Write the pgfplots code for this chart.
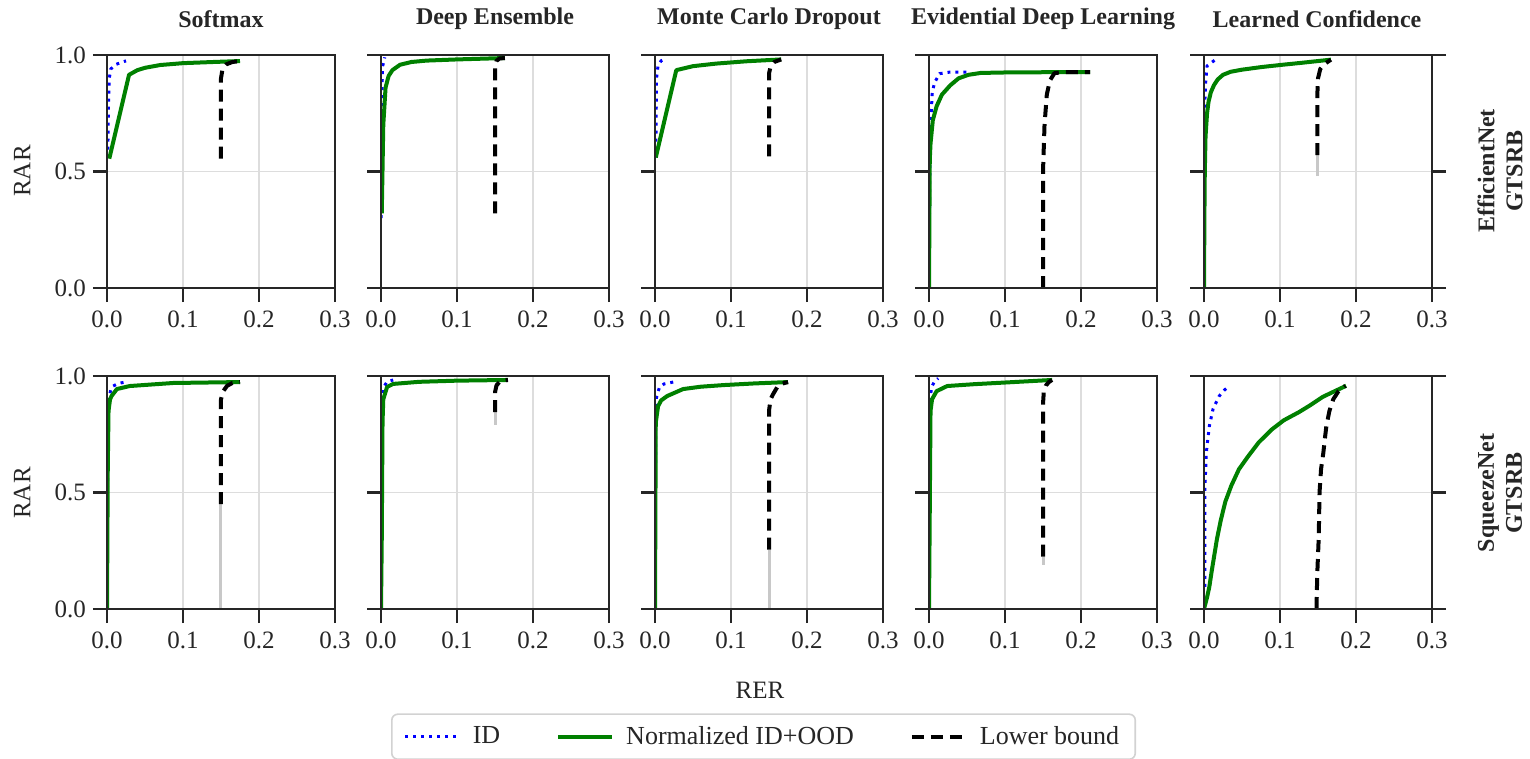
\documentclass[border=0pt]{standalone}
\usepackage{fontspec}
\setmainfont{Liberation Serif}
\usepackage{pgfplots}
\pgfplotsset{compat=1.18}
\definecolor{spine}{HTML}{262626}
\definecolor{gridc}{HTML}{DDDDDD}
\definecolor{idblue}{HTML}{0000FF}
\definecolor{oodgreen}{HTML}{008000}
\definecolor{lbgray}{HTML}{C8C8C8}
\pgfplotsset{
  panel/.style={
    scale only axis, width=114pt, height=116.5pt, anchor=south west,
    xmin=0,xmax=0.3,ymin=0,ymax=1,
    xtick={0,0.1,0.2,0.3}, ytick={0,0.5,1},
    xtick pos=bottom, ytick pos=left, tick align=outside,
    major tick length=7pt,
    axis line style={line width=1.25pt,spine},
    tick style={line width=1.25pt,spine},
    grid=major, major grid style={line width=0.6pt,gridc},
    /pgf/number format/fixed, /pgf/number format/fixed zerofill,
    /pgf/number format/precision=1, /pgf/number format/assume math mode=true,
    tick label style={font=\fontsize{12.5}{14}\selectfont, text=black!85},
    xticklabel style={yshift=-1pt},
    after end axis/.append code={\draw[spine,line width=1.25pt,line cap=rect] (rel axis cs:0,0) rectangle (rel axis cs:1,1);},
  },
  noy/.style={yticklabels={,,}},
  idl/.style={idblue, line width=1.5pt, dash pattern=on 1.5pt off 2.5pt},
  ood/.style={oodgreen, line width=2pt, line join=round},
  lb/.style={black, line width=2pt, dash pattern=on 6pt off 3.5pt, line join=round},
  lbg/.style={lbgray, line width=1.5pt, forget plot},
}
\begin{document}
\begin{tikzpicture}
% ---------- row 1: EfficientNet ----------
\begin{axis}[panel, at={(53.5pt,-144pt)}]
\addplot[idl] coordinates {(0.001,0.56)(0.002,0.8)(0.003,0.9)(0.005,0.94)(0.012,0.96)(0.025,0.975)};
\addplot[ood] coordinates {(0.003,0.555)(0.029,0.915)(0.04,0.935)(0.05,0.945)(0.07,0.957)(0.1,0.965)(0.14,0.97)(0.175,0.974)};
\addplot[lb] coordinates {(0.15,0.555)(0.15,0.9)(0.152,0.94)(0.157,0.96)(0.165,0.97)(0.175,0.974)};
\end{axis}
\begin{axis}[panel, noy, at={(190.5pt,-144pt)}]
\addplot[idl] coordinates {(0.0,0.3)(0.001,0.8)(0.002,0.95)(0.005,0.99)};
\addplot[ood] coordinates {(0.001,0.32)(0.003,0.7)(0.006,0.86)(0.01,0.91)(0.015,0.935)(0.025,0.958)(0.04,0.97)(0.06,0.976)(0.1,0.981)(0.163,0.987)};
\addplot[lb] coordinates {(0.15,0.32)(0.15,0.95)(0.152,0.975)(0.156,0.985)(0.163,0.987)};
\end{axis}
\begin{axis}[panel, noy, at={(327.5pt,-144pt)}]
\addplot[idl] coordinates {(0.001,0.56)(0.002,0.9)(0.004,0.955)(0.008,0.975)(0.014,0.983)};
\addplot[ood] coordinates {(0.001,0.56)(0.028,0.935)(0.05,0.952)(0.08,0.963)(0.12,0.973)(0.166,0.981)};
\addplot[lb] coordinates {(0.15,0.565)(0.15,0.92)(0.152,0.95)(0.157,0.97)(0.166,0.981)};
\end{axis}
\begin{axis}[panel, noy, at={(464.5pt,-144pt)}]
\addplot[idl] coordinates {(0,0)(0.001,0.5)(0.002,0.66)(0.004,0.83)(0.007,0.88)(0.014,0.92)(0.028,0.927)(0.055,0.927)};
\addplot[ood] coordinates {(0,0)(0.001,0.55)(0.002,0.62)(0.005,0.72)(0.01,0.78)(0.017,0.83)(0.028,0.87)(0.039,0.9)(0.052,0.915)(0.068,0.923)(0.1,0.925)(0.15,0.926)(0.212,0.927)};
\addplot[lb] coordinates {(0.15,0)(0.15,0.5)(0.152,0.7)(0.155,0.83)(0.159,0.89)(0.165,0.922)(0.175,0.926)(0.212,0.927)};
\end{axis}
\begin{axis}[panel, noy, ytick pos=both, at={(602pt,-144pt)}]
\addplot[idl] coordinates {(0.0,0.5)(0.001,0.79)(0.002,0.876)(0.004,0.953)(0.015,0.98)};
\addplot[lbg] coordinates {(0.149,0.48)(0.149,0.57)};
\addplot[ood] coordinates {(0,0)(0.0005,0.3)(0.001,0.49)(0.002,0.65)(0.004,0.75)(0.006,0.8)(0.009,0.84)(0.013,0.87)(0.018,0.895)(0.025,0.915)(0.035,0.928)(0.05,0.937)(0.075,0.948)(0.1,0.957)(0.13,0.967)(0.167,0.98)};
\addplot[lb] coordinates {(0.149,0.57)(0.149,0.82)(0.15,0.9)(0.153,0.94)(0.158,0.96)(0.167,0.98)};
\end{axis}
% ---------- row 2: SqueezeNet ----------
\begin{axis}[panel, at={(53.5pt,-304.5pt)}]
\addplot[idl] coordinates {(0,0)(0.001,0.8)(0.002,0.9)(0.005,0.94)(0.008,0.957)(0.015,0.968)(0.024,0.974)};
\addplot[lbg] coordinates {(0.15,0)(0.15,0.45)};
\addplot[ood] coordinates {(0,0)(0.001,0.6)(0.002,0.85)(0.004,0.9)(0.006,0.914)(0.013,0.944)(0.03,0.957)(0.087,0.97)(0.175,0.974)};
\addplot[lb] coordinates {(0.15,0.45)(0.15,0.9)(0.153,0.935)(0.158,0.958)(0.165,0.97)(0.175,0.974)};
\end{axis}
\begin{axis}[panel, noy, at={(190.5pt,-304.5pt)}]
\addplot[idl] coordinates {(0,0)(0.001,0.85)(0.003,0.95)(0.008,0.975)(0.016,0.983)};
\addplot[lbg] coordinates {(0.15,0.79)(0.15,0.845)};
\addplot[ood] coordinates {(0,0)(0.001,0.3)(0.002,0.8)(0.003,0.9)(0.008,0.953)(0.016,0.966)(0.05,0.975)(0.1,0.98)(0.167,0.983)};
\addplot[lb] coordinates {(0.15,0.845)(0.15,0.93)(0.152,0.96)(0.157,0.978)(0.167,0.983)};
\end{axis}
\begin{axis}[panel, noy, at={(327.5pt,-304.5pt)},
  legend style={at={(0.476,-0.448)}, anchor=north, legend columns=3,
    draw=gray!35, line width=0.8pt, rounded corners=3pt, inner ysep=4pt, inner xsep=6pt,
    font=\fontsize{13}{15}\selectfont, text=black!85,
    /tikz/every odd column/.append style={column sep=4pt},
    /tikz/every even column/.append style={column sep=26pt}},
  legend image code/.code={\draw[#1] (0pt,0pt) -- (27pt,0pt);}]
\addplot[idl] coordinates {(0,0.25)(0.001,0.8)(0.002,0.91)(0.006,0.953)(0.012,0.966)(0.024,0.974)};
\addlegendentry{ID}
\addplot[lbg] coordinates {(0.15,0)(0.15,0.255)};
\addplot[ood] coordinates {(0,0)(0.001,0.8)(0.004,0.87)(0.008,0.895)(0.016,0.914)(0.037,0.944)(0.06,0.954)(0.09,0.961)(0.13,0.968)(0.175,0.974)};
\addlegendentry{Normalized ID+OOD}
\addplot[lb] coordinates {(0.15,0.255)(0.15,0.85)(0.152,0.9)(0.155,0.92)(0.161,0.953)(0.167,0.967)(0.175,0.974)};
\addlegendentry{Lower bound}
\end{axis}
\begin{axis}[panel, noy, at={(464.5pt,-304.5pt)}]
\addplot[idl] coordinates {(0,0)(0.001,0.85)(0.003,0.95)(0.007,0.975)(0.012,0.99)};
\addplot[lbg] coordinates {(0.15,0.19)(0.15,0.225)};
\addplot[ood] coordinates {(0,0)(0.002,0.85)(0.004,0.9)(0.01,0.935)(0.024,0.957)(0.06,0.965)(0.1,0.972)(0.162,0.983)};
\addplot[lb] coordinates {(0.15,0.225)(0.15,0.88)(0.151,0.93)(0.154,0.96)(0.158,0.975)(0.162,0.983)};
\end{axis}
\begin{axis}[panel, noy, ytick pos=both, at={(602pt,-304.5pt)}]
\addplot[idl] coordinates {(0.001,0.095)(0.001,0.5)(0.003,0.67)(0.007,0.785)(0.012,0.86)(0.02,0.914)(0.027,0.94)(0.033,0.957)};
\addplot[ood] coordinates {(0,0)(0.004,0.05)(0.007,0.095)(0.01,0.16)(0.013,0.22)(0.017,0.3)(0.022,0.38)(0.028,0.46)(0.036,0.53)(0.046,0.6)(0.058,0.655)(0.072,0.715)(0.089,0.77)(0.105,0.81)(0.125,0.845)(0.14,0.875)(0.156,0.91)(0.172,0.935)(0.187,0.958)};
\addplot[lb] coordinates {(0.148,0)(0.149,0.15)(0.151,0.31)(0.152,0.5)(0.154,0.6)(0.157,0.67)(0.159,0.73)(0.161,0.785)(0.165,0.85)(0.17,0.9)(0.177,0.935)(0.186,0.958)};
\end{axis}
% ---------- labels ----------
\begin{scope}[font=\bfseries\fontsize{12}{14}\selectfont, text=black!85]
\node at (110.5pt,-9.5pt) {Softmax};
\node at (247.5pt,-9.5pt) {Deep Ensemble};
\node at (384.5pt,-9.5pt) {Monte Carlo Dropout};
\node at (521.5pt,-9.5pt) {Evidential Deep Learning};
\node at (658.5pt,-9.5pt) {Learned Confidence};
\node[rotate=90, align=center] at (750pt,-85.5pt) {EfficientNet\\GTSRB};
\node[rotate=90, align=center] at (750pt,-246.5pt) {SqueezeNet\\GTSRB};
\end{scope}
\begin{scope}[font=\fontsize{12.5}{14}\selectfont, text=black!85]
\node[rotate=90] at (11pt,-85.5pt) {RAR};
\node[rotate=90] at (11pt,-246.5pt) {RAR};
\node at (380pt,-345pt) {RER};
\end{scope}
\pgfresetboundingbox
\path[use as bounding box] (0pt,0pt) rectangle (765pt,-379.5pt);
\end{tikzpicture}
\end{document}
